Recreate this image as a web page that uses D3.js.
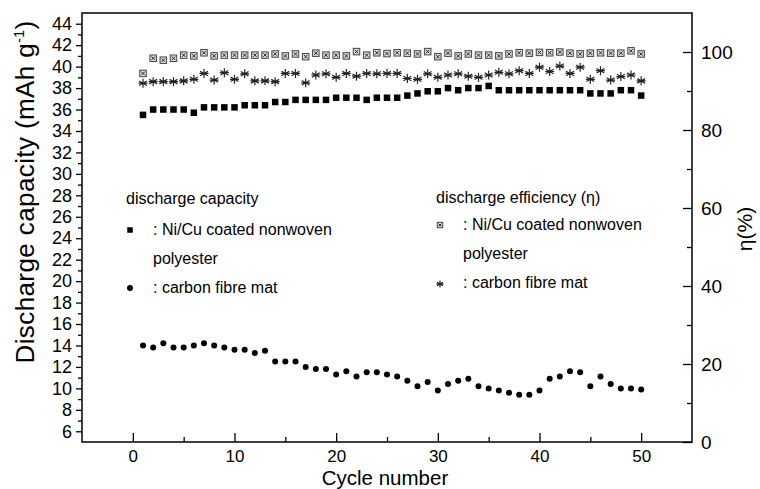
<!DOCTYPE html>
<html>
<head>
<meta charset="utf-8">
<script src="https://cdn.jsdelivr.net/npm/d3@7"></script>
<style>
  body { margin: 0; background: #fff; }
  text { font-family: "Liberation Sans", Arial, sans-serif; fill: #000; }
</style>
</head>
<body>
<div id="chart"></div>
<script>
// Data
const cycles = d3.range(1, 51)

// discharge capacity (mAh g-1), left axis
const capNiCu = [35.5, 36.0, 36.0, 36.0, 36.0, 35.7, 36.2, 36.2, 36.2, 36.2,
  36.4, 36.4, 36.4, 36.7, 36.7, 36.9, 36.9, 36.9, 36.9, 37.1,
  37.1, 37.1, 36.9, 37.1, 37.1, 37.1, 37.3, 37.5, 37.7, 37.7,
  38.0, 37.8, 38.0, 38.0, 38.2, 37.8, 37.8, 37.8, 37.8, 37.8,
  37.8, 37.8, 37.8, 37.8, 37.5, 37.5, 37.5, 37.8, 37.8, 37.3]
const capCarbon = [14.0, 13.8, 14.2, 13.8, 13.8, 14.0, 14.2, 14.0, 13.8, 13.6,
  13.6, 13.3, 13.5, 12.5, 12.5, 12.5, 12.0, 11.8, 11.8, 11.3,
  11.6, 11.1, 11.5, 11.5, 11.3, 11.1, 10.7, 10.2, 10.6, 9.8,
  10.4, 10.7, 10.9, 10.2, 10.0, 9.8, 9.6, 9.4, 9.4, 9.8,
  10.9, 11.1, 11.6, 11.5, 10.2, 11.1, 10.4, 10.0, 10.0, 9.9]

// discharge efficiency (%), right axis
const effNiCu = [94.5, 98.4, 97.9, 98.4, 99.2, 99.0, 99.8, 99.0, 99.2, 99.2,
  99.2, 99.2, 99.2, 99.5, 99.0, 99.5, 98.8, 99.7, 99.2, 99.2,
  99.0, 100.1, 99.2, 99.8, 99.6, 99.8, 99.7, 99.5, 100.1, 98.8,
  99.7, 99.0, 99.5, 99.2, 99.2, 99.0, 99.5, 99.8, 99.7, 99.9,
  99.8, 100.0, 99.7, 99.5, 99.7, 99.8, 99.7, 99.7, 100.3, 99.5]
const effCarbon = [92.0, 92.4, 92.4, 92.4, 92.6, 93.0, 94.5, 92.8, 94.7, 93.0,
  94.4, 92.6, 92.6, 92.4, 94.5, 94.5, 92.1, 94.1, 94.4, 93.5,
  94.5, 93.8, 94.5, 94.4, 94.5, 94.5, 93.2, 93.0, 94.4, 93.5,
  94.1, 94.4, 93.8, 93.5, 94.1, 94.8, 94.4, 95.2, 94.5, 96.1,
  95.0, 96.4, 94.5, 96.1, 93.0, 95.2, 92.8, 93.7, 94.1, 92.6]

// Ticks
const xMajor = [0, 10, 20, 30, 40, 50]
const xMinor = [5, 15, 25, 35, 45]
const yMajor = d3.range(6, 45, 2)
const yMinor = d3.range(7, 44, 2)
const y2Major = [0, 20, 40, 60, 80, 100]
const y2Minor = [10, 30, 50, 70, 90]

// Dimensions
const dims = { width: 760, height: 489, left: 82, right: 692, top: 13, bottom: 442 }

const svg = d3.select('#chart').append('svg')
  .attr('width', dims.width)
  .attr('height', dims.height)

// Scales
const x = d3.scaleLinear().domain([-5, 55]).range([dims.left, dims.right])
const y = d3.scaleLinear().domain([5, 45]).range([dims.bottom, dims.top])
const y2 = d3.scaleLinear().domain([0, 110]).range([dims.bottom, dims.top])

// Axes
const axisStyle = size => g => {
  g.select('.domain').remove()
  g.selectAll('line').attr('stroke', '#000').attr('stroke-width', 1.3)
  g.selectAll('text').attr('font-size', size).attr('font-family', '"Liberation Sans", Arial, sans-serif')
}

svg.append('g').attr('transform', `translate(0,${dims.bottom})`)
  .call(d3.axisBottom(x).tickValues(xMajor).tickSize(-9).tickPadding(8))
  .call(axisStyle(17))
svg.append('g').attr('transform', `translate(0,${dims.bottom})`)
  .call(d3.axisBottom(x).tickValues(xMinor).tickSize(-5).tickFormat(''))
  .call(axisStyle(17))

svg.append('g').attr('transform', `translate(${dims.left},0)`)
  .call(d3.axisLeft(y).tickValues(yMajor).tickSize(6).tickPadding(4))
  .call(axisStyle(18))
svg.append('g').attr('transform', `translate(${dims.left},0)`)
  .call(d3.axisLeft(y).tickValues(yMinor).tickSize(4).tickFormat(''))
  .call(axisStyle(18))

svg.append('g').attr('transform', `translate(${dims.right},0)`)
  .call(d3.axisRight(y2).tickValues(y2Major).tickSize(-9).tickPadding(9))
  .call(axisStyle(19))
svg.append('g').attr('transform', `translate(${dims.right},0)`)
  .call(d3.axisRight(y2).tickValues(y2Minor).tickSize(-5).tickFormat(''))
  .call(axisStyle(19))

// Frame
svg.append('rect')
  .attr('x', dims.left).attr('y', dims.top)
  .attr('width', dims.right - dims.left).attr('height', dims.bottom - dims.top)
  .attr('fill', 'none').attr('stroke', '#000').attr('stroke-width', 1.5)

// Axis titles
svg.append('text')
  .attr('x', (dims.left + dims.right) / 2 - 2).attr('y', 484.5)
  .attr('text-anchor', 'middle').attr('font-size', 20.5)
  .text('Cycle number')

const yTitle = svg.append('text')
  .attr('transform', `translate(34,192) rotate(-90)`)
  .attr('text-anchor', 'middle').attr('font-size', 26)
  .attr('letter-spacing', 0.4)
yTitle.append('tspan').text('Discharge capacity (mAh g')
yTitle.append('tspan').attr('font-size', 14).attr('dy', -10).text('-1')
yTitle.append('tspan').attr('dy', 10).text(')')

svg.append('text')
  .attr('transform', `translate(752,229) rotate(-90)`)
  .attr('text-anchor', 'middle').attr('font-size', 21)
  .text('η(%)')

// Markers
const drawSquare = (g, cx, cy, s) => g.append('rect')
  .attr('x', cx - s / 2).attr('y', cy - s / 2).attr('width', s).attr('height', s)
  .attr('fill', '#000')
const drawCircle = (g, cx, cy, r) => g.append('circle')
  .attr('cx', cx).attr('cy', cy).attr('r', r).attr('fill', '#000')
const drawBoxX = (g, cx, cy, s) => {
  const h = s / 2
  g.append('rect').attr('x', cx - h).attr('y', cy - h).attr('width', s).attr('height', s)
    .attr('fill', '#ddd').attr('stroke', '#444').attr('stroke-width', 1)
  g.append('path')
    .attr('d', `M${cx - h + 1.5},${cy - h + 1.5}L${cx + h - 1.5},${cy + h - 1.5}M${cx + h - 1.5},${cy - h + 1.5}L${cx - h + 1.5},${cy + h - 1.5}`)
    .attr('stroke', '#222').attr('stroke-width', 1)
}
const drawStar = (g, cx, cy, r) => {
  let d = ''
  for (let k = 0; k < 3; k++) {
    const a = Math.PI / 2 + k * Math.PI / 3
    d += `M${cx + r * Math.cos(a)},${cy - r * Math.sin(a)}L${cx - r * Math.cos(a)},${cy + r * Math.sin(a)}`
  }
  g.append('path').attr('d', d + `M${cx - r},${cy}L${cx + r},${cy}`)
    .attr('stroke', '#222').attr('stroke-width', 1.2)
}

const marks = svg.append('g')
cycles.forEach((c, i) => {
  drawBoxX(marks, x(c), y2(effNiCu[i]), 6.5)
  drawStar(marks, x(c), y2(effCarbon[i]), 4.5)
  drawSquare(marks, x(c), y(capNiCu[i]), 6.5)
  drawCircle(marks, x(c), y(capCarbon[i]), 3)
})

// Legend
const legend = svg.append('g')
legend.append('text').attr('x', 126).attr('y', 204).attr('font-size', 16).text('discharge capacity')
drawSquare(legend, 130, 230, 5.5)
legend.append('text').attr('x', 153).attr('y', 235).attr('font-size', 16).text(': Ni/Cu coated nonwoven')
legend.append('text').attr('x', 153).attr('y', 264).attr('font-size', 16).text('polyester')
drawCircle(legend, 130, 288, 3)
legend.append('text').attr('x', 153).attr('y', 293).attr('font-size', 16).text(': carbon fibre mat')

legend.append('text').attr('x', 436).attr('y', 203).attr('font-size', 16).text('discharge efficiency (η)')
drawBoxX(legend, 440, 225, 5.5)
legend.append('text').attr('x', 463).attr('y', 230).attr('font-size', 16).text(': Ni/Cu coated nonwoven')
legend.append('text').attr('x', 463).attr('y', 259).attr('font-size', 16).text('polyester')
drawStar(legend, 440, 284, 3.5)
legend.append('text').attr('x', 463).attr('y', 288).attr('font-size', 16).text(': carbon fibre mat')
</script>
</body>
</html>
